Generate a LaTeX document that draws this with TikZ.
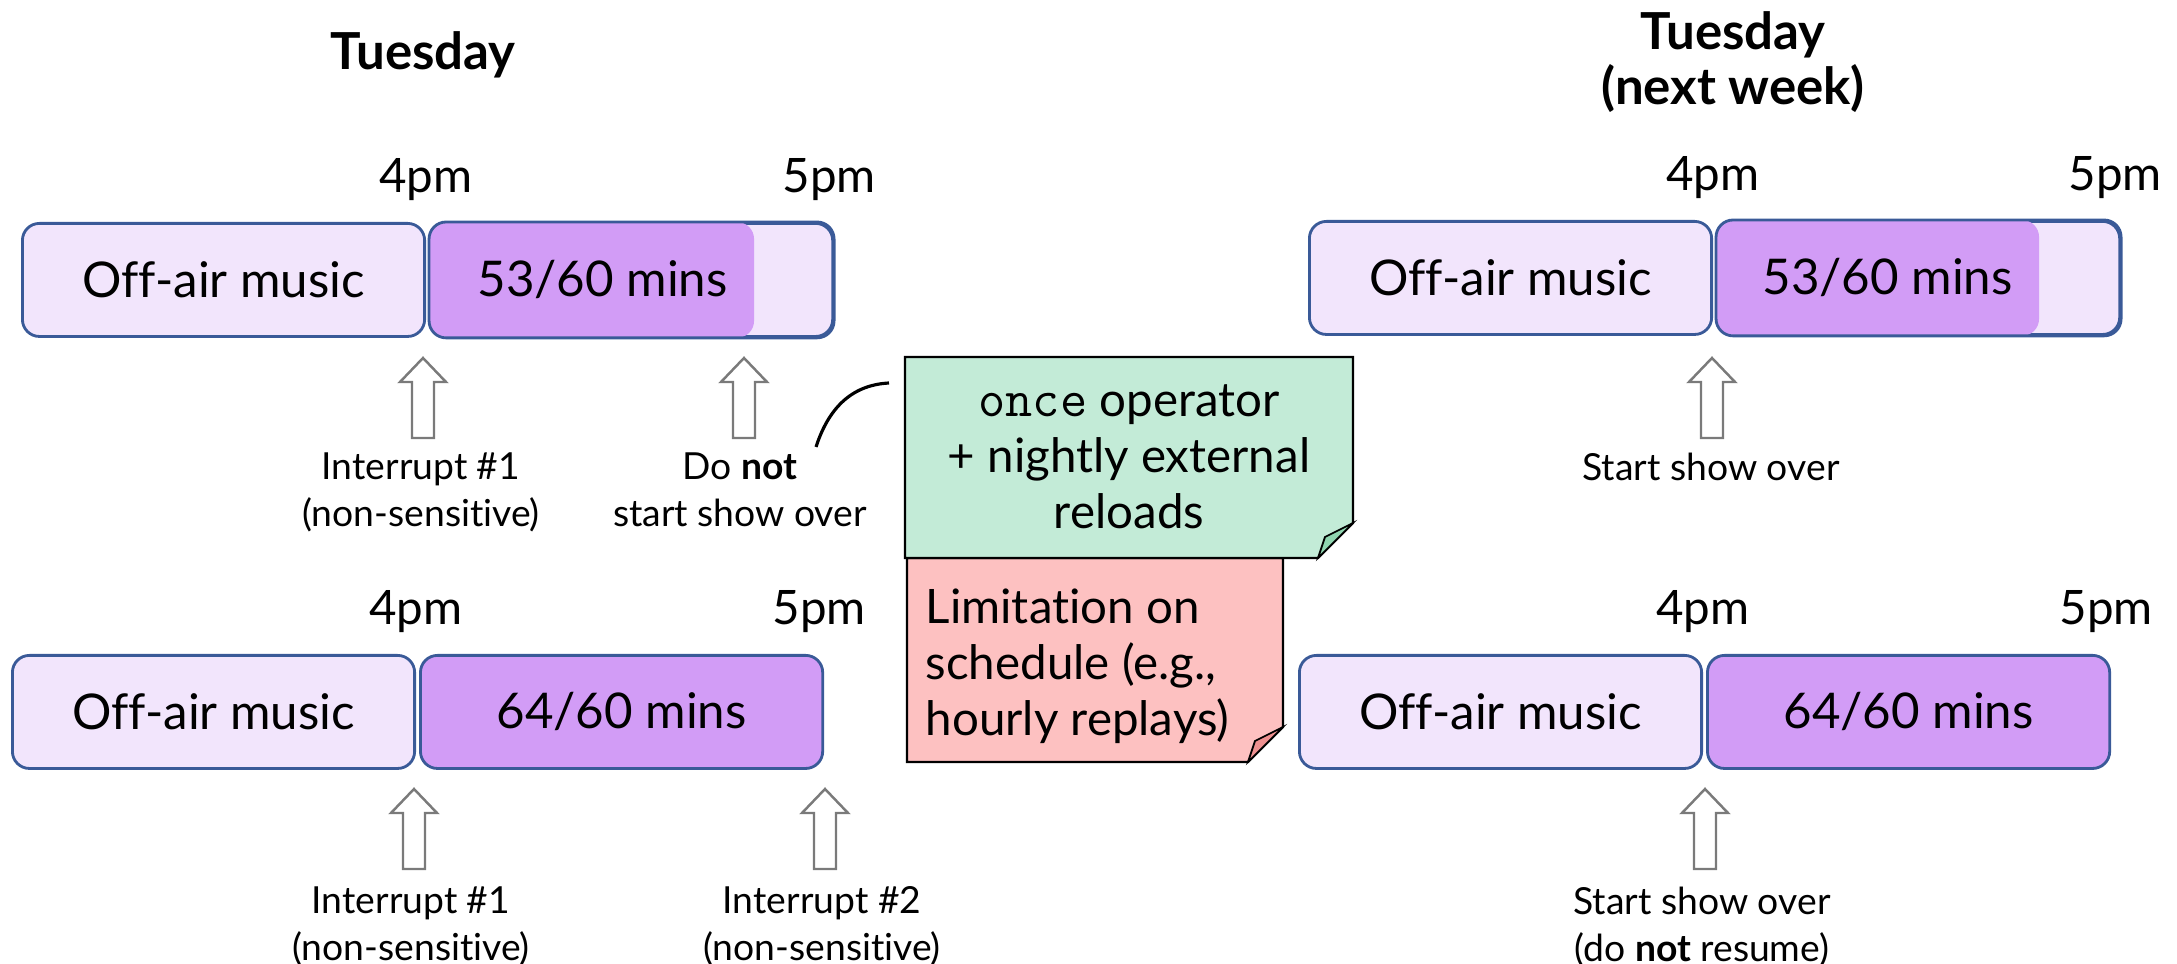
\documentclass[tikz,border=0pt]{standalone}
\usepackage{fontspec}
\setmainfont{Lato}[Ligatures=NoCommon]
\usetikzlibrary{positioning}
\definecolor{lavlight}{HTML}{F2E5FC}
\definecolor{lavdark}{HTML}{D29CF6}
\definecolor{boxedge}{HTML}{3A5A98}
\definecolor{notegreen}{HTML}{C3EBD7}
\definecolor{foldgreen}{HTML}{8FD5B0}
\definecolor{notered}{HTML}{FDC1C1}
\definecolor{foldred}{HTML}{EE9090}
\definecolor{arrowgray}{HTML}{7A7A7A}
\newcommand{\boxfont}{\fontsize{14pt}{17pt}\selectfont}
\newcommand{\timefont}{\fontsize{13.5pt}{16pt}\selectfont}
\newcommand{\lblfont}{\fontsize{10.6pt}{13.4pt}\selectfont}
\newcommand{\titlefont}{\fontsize{14.5pt}{15.6pt}\selectfont\bfseries}
\newcommand{\notefont}{\fontsize{13.5pt}{16pt}\selectfont}
\newcommand{\opname}[1]{{\ttfamily\fontsize{15pt}{16pt}\selectfont #1}}
\tikzset{slot/.style = {line width=0.8pt, rounded corners=0.17cm, minimum width=4.02cm,
                        minimum height=1.13cm, inner sep=0pt, font=\boxfont},
         offbox/.style = {slot, draw=boxedge, fill=lavlight},
         showbox/.style = {slot, draw=boxedge, fill=lavdark},
         partbox/.style = {slot, draw=boxedge, fill=lavlight},
         timelbl/.style = {font=\timefont, inner sep=0pt, anchor=base},
         lbl/.style = {font=\lblfont, align=center, inner sep=0pt, anchor=north},
         daytitle/.style = {font=\titlefont, align=center, inner sep=0pt},
         note/.style = {draw=black, line width=0.7pt},
         fold/.style = {draw=black, line width=0.5pt},
         uparrow/.pic = {\draw [draw=arrowgray, fill=white, line width=0.7pt]
                         (-11,0) -- (-11,-56) -- (-23,-56) -- (0,-80) -- (23,-56) -- (11,-56) -- (11,0) -- cycle;}}

\begin{document}
\begin{tikzpicture}[x=0.01cm, y=-0.01cm]
      \useasboundingbox (0,0) rectangle (2177,964);
      % titles
      \node [daytitle, anchor=base] (tue) at (423,70) {Tuesday};
      \node [daytitle, anchor=north] (tueNext) at (1733,11) {Tuesday\\(next week)};
      % this week, first try
      \node [offbox, anchor=north west] (tlOff) at (21,222) {Off-air music};
      \node [partbox, right=0.03cm of tlOff] (tlMin) {};
      \fill [lavdark, rounded corners=0.17cm] (tlMin.north west) rectangle ([xshift=-0.8cm]tlMin.south east);
      \draw [boxedge, line width=0.8pt, rounded corners=0.17cm] (tlMin.north west) rectangle (tlMin.south east);
      \node [font=\boxfont] (tlMins) at ([xshift=-0.29cm]tlMin.center) {53/60 mins};
      \node [timelbl] (tl4) at ([yshift=0.29cm]tlOff.north east) {4pm};
      \node [timelbl] (tl5) at ([xshift=-0.05cm, yshift=0.29cm]tlMin.north east) {5pm};
      \pic at (423,438) {uparrow};
      \pic at (744,438) {uparrow};
      \node [lbl] (tlInt) at (421,452) {Interrupt \#1\\(non-sensitive)};
      \node [lbl] (tlNot) at (740,452) {Do \textbf{not}\\start show over};
      % this week, second try
      \node [offbox, anchor=north west] (blOff) at (11,654) {Off-air music};
      \node [showbox, right=0.03cm of blOff] (blMin) {64/60 mins};
      \node [timelbl] (bl4) at ([yshift=0.29cm]blOff.north east) {4pm};
      \node [timelbl] (bl5) at ([xshift=-0.05cm, yshift=0.29cm]blMin.north east) {5pm};
      \pic at (414,869) {uparrow};
      \pic at (825,869) {uparrow};
      \node [lbl] (blInt1) at (411,886) {Interrupt \#1\\(non-sensitive)};
      \node [lbl] (blInt2) at (822,886) {Interrupt \#2\\(non-sensitive)};
      % next week, first try
      \node [offbox, anchor=north west] (trOff) at (1308,220) {Off-air music};
      \node [partbox, right=0.03cm of trOff] (trMin) {};
      \fill [lavdark, rounded corners=0.17cm] (trMin.north west) rectangle ([xshift=-0.82cm]trMin.south east);
      \draw [boxedge, line width=0.8pt, rounded corners=0.17cm] (trMin.north west) rectangle (trMin.south east);
      \node [font=\boxfont] (trMins) at ([xshift=-0.31cm]trMin.center) {53/60 mins};
      \node [timelbl] (tr4) at ([yshift=0.29cm]trOff.north east) {4pm};
      \node [timelbl] (tr5) at ([xshift=-0.06cm, yshift=0.29cm]trMin.north east) {5pm};
      \pic at (1712,438) {uparrow};
      \node [lbl] (trStart) at (1711,452) {Start show over};
      % next week, second try
      \node [offbox, anchor=north west] (brOff) at (1298,654) {Off-air music};
      \node [showbox, right=0.03cm of brOff] (brMin) {64/60 mins};
      \node [timelbl] (br4) at ([yshift=0.29cm]brOff.north east) {4pm};
      \node [timelbl] (br5) at ([xshift=-0.05cm, yshift=0.29cm]brMin.north east) {5pm};
      \pic at (1705,869) {uparrow};
      \node [lbl] (brStart) at (1702,886) {Start show over\\(do \textbf{not} resume)};
      % sticky notes
      \draw [note, fill=notered] (907,558) -- (1283,558) -- (1283,727) -- (1248,762) -- (907,762) -- cycle;
      \draw [fold, fill=foldred] (1283,727) -- (1248,762) -- (1255,741) -- cycle;
      \draw [note, fill=notegreen] (905,357) -- (1353,357) -- (1353,523) -- (1318,558) -- (905,558) -- cycle;
      \draw [fold, fill=foldgreen] (1353,523) -- (1318,558) -- (1325,537) -- cycle;
      \node [font=\notefont, align=center] (gnote) at (1129,457) {\opname{once} operator\\+ nightly external\\reloads};
      \node [font=\notefont, align=left, anchor=north west, inner sep=0pt] (rnote) at (925,588) {Limitation on\\schedule (e.g.,\\hourly replays)};
      \coordinate (cstart) at (816,447);
      \coordinate (cend) at (889,383);
      \draw [line width=0.9pt] (cstart) .. controls (828,410) and (850,385) .. (cend);
    \end{tikzpicture}
\end{document}
